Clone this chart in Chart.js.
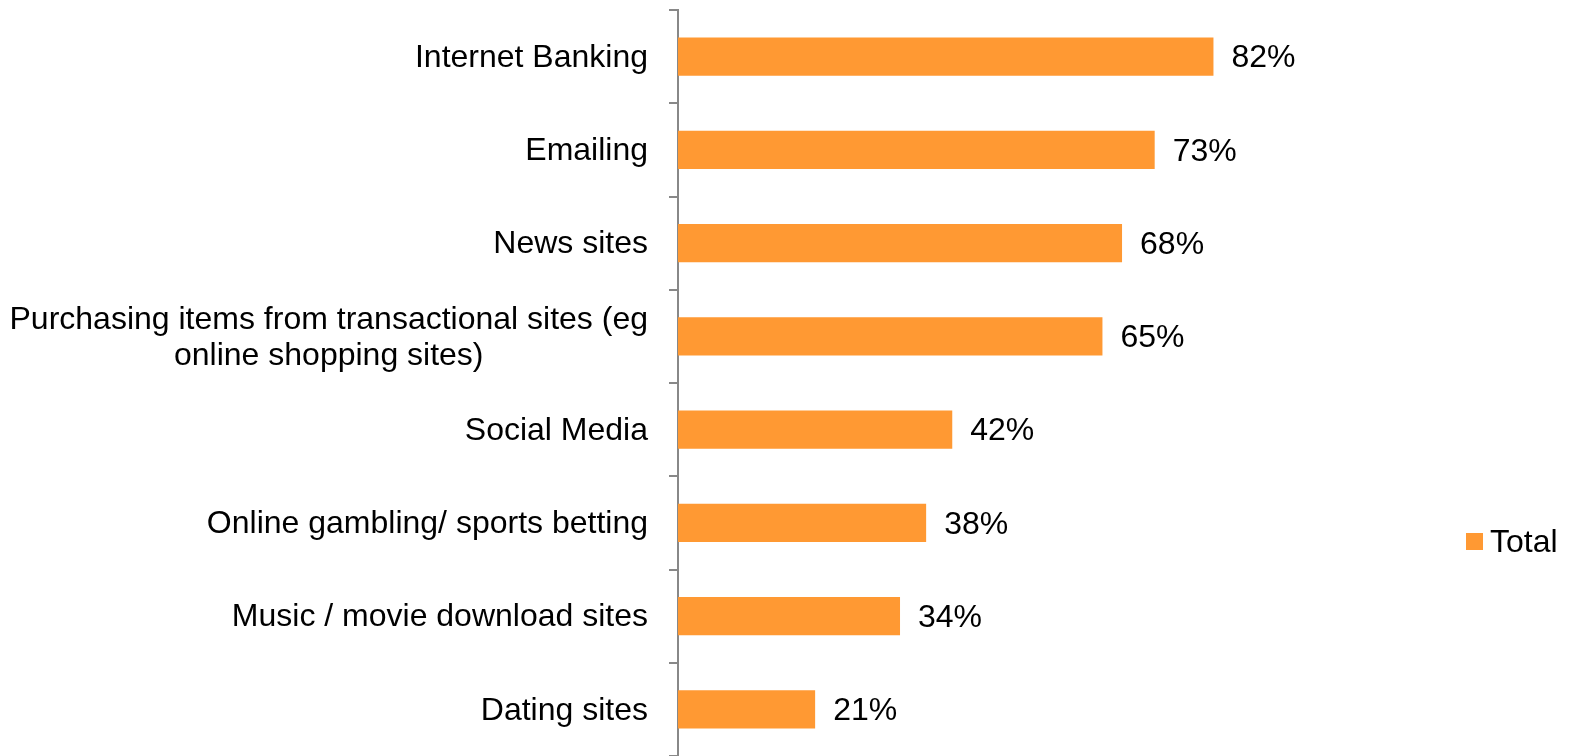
<!DOCTYPE html>
<html>
<head>
<meta charset="utf-8">
<script src="https://cdn.jsdelivr.net/npm/chart.js@4/dist/chart.umd.min.js"></script>
<style>
  html, body { margin: 0; padding: 0; background: #fff; }
  #wrap { position: relative; width: 1570px; height: 756px; }
  #legend {
    position: absolute; left: 1466px; top: 523px;
    font-family: "Liberation Sans", Arial, sans-serif; font-size: 32px; color: #000;
    display: flex; align-items: center; white-space: nowrap;
  }
  #legend .box { width: 17px; height: 17px; margin-right: 7px; }
</style>
</head>
<body>
<div id="wrap">
  <canvas id="chart" width="1570" height="756"></canvas>
  <div id="legend"></div>
</div>
<script>
const categories = [
  'Internet Banking',
  'Emailing',
  'News sites',
  ['Purchasing items from transactional sites (eg', 'online shopping sites)'],
  'Social Media',
  'Online gambling/ sports betting',
  'Music / movie download sites',
  'Dating sites'
];
const totalValues = [82, 73, 68, 65, 42, 38, 34, 21];
const seriesName = 'Total';
const barColor = '#FF9933';

const FONT = '"Liberation Sans", Arial, sans-serif';
const FONT_SIZE = 32;

// Category labels: right-aligned block, multi-line labels centred line by line
const categoryLabels = {
  id: 'categoryLabels',
  afterDraw(chart) {
    const ctx = chart.ctx;
    const scale = chart.scales.y;
    const rightEdge = scale.right - 30;
    const lineH = 36;
    ctx.save();
    ctx.font = FONT_SIZE + 'px ' + FONT;
    ctx.fillStyle = '#000';
    ctx.textBaseline = 'middle';
    chart.data.labels.forEach((lab, i) => {
      const lines = Array.isArray(lab) ? lab : [lab];
      const y = scale.getPixelForTick(i) + 1.5;
      const widths = lines.map(l => ctx.measureText(l).width);
      const maxW = Math.max(...widths);
      const cx = rightEdge - maxW / 2;
      ctx.textAlign = 'center';
      lines.forEach((l, k) => {
        const ly = y + (k - (lines.length - 1) / 2) * lineH;
        ctx.fillText(l, cx, ly);
      });
    });
    ctx.restore();
  }
};

// Value labels after each bar
const valueLabels = {
  id: 'valueLabels',
  afterDatasetsDraw(chart) {
    const ctx = chart.ctx;
    ctx.save();
    ctx.font = FONT_SIZE + 'px ' + FONT;
    ctx.fillStyle = '#000';
    ctx.textAlign = 'left';
    ctx.textBaseline = 'middle';
    const meta = chart.getDatasetMeta(0);
    meta.data.forEach((bar, i) => {
      ctx.fillText(chart.data.datasets[0].data[i] + '%', bar.x + 18, bar.y + 2);
    });
    ctx.restore();
  }
};

const chart = new Chart(document.getElementById('chart'), {
  type: 'bar',
  data: {
    labels: categories,
    datasets: [{
      label: seriesName,
      data: totalValues,
      backgroundColor: barColor,
      borderWidth: 0,
      barPercentage: 0.41,
      categoryPercentage: 1
    }]
  },
  options: {
    indexAxis: 'y',
    responsive: false,
    animation: false,
    layout: { padding: { top: 10, right: 239, bottom: 0, left: 0 } },
    plugins: {
      legend: { display: false },
      tooltip: { enabled: false }
    },
    scales: {
      x: {
        display: false,
        min: 0,
        max: 100
      },
      y: {
        afterFit(scale) { scale.width = 678; },
        ticks: { display: false },
        grid: {
          drawOnChartArea: false,
          drawTicks: true,
          tickLength: 9,
          color: '#888888',
          lineWidth: 2,
          offset: true
        },
        border: { display: true, color: '#888888', width: 2 }
      }
    }
  },
  plugins: [categoryLabels, valueLabels]
});

// Legend
const legend = document.getElementById('legend');
chart.data.datasets.forEach(ds => {
  const box = document.createElement('span');
  box.className = 'box';
  box.style.background = ds.backgroundColor;
  const txt = document.createElement('span');
  txt.textContent = ds.label;
  legend.appendChild(box);
  legend.appendChild(txt);
});
</script>
</body>
</html>
